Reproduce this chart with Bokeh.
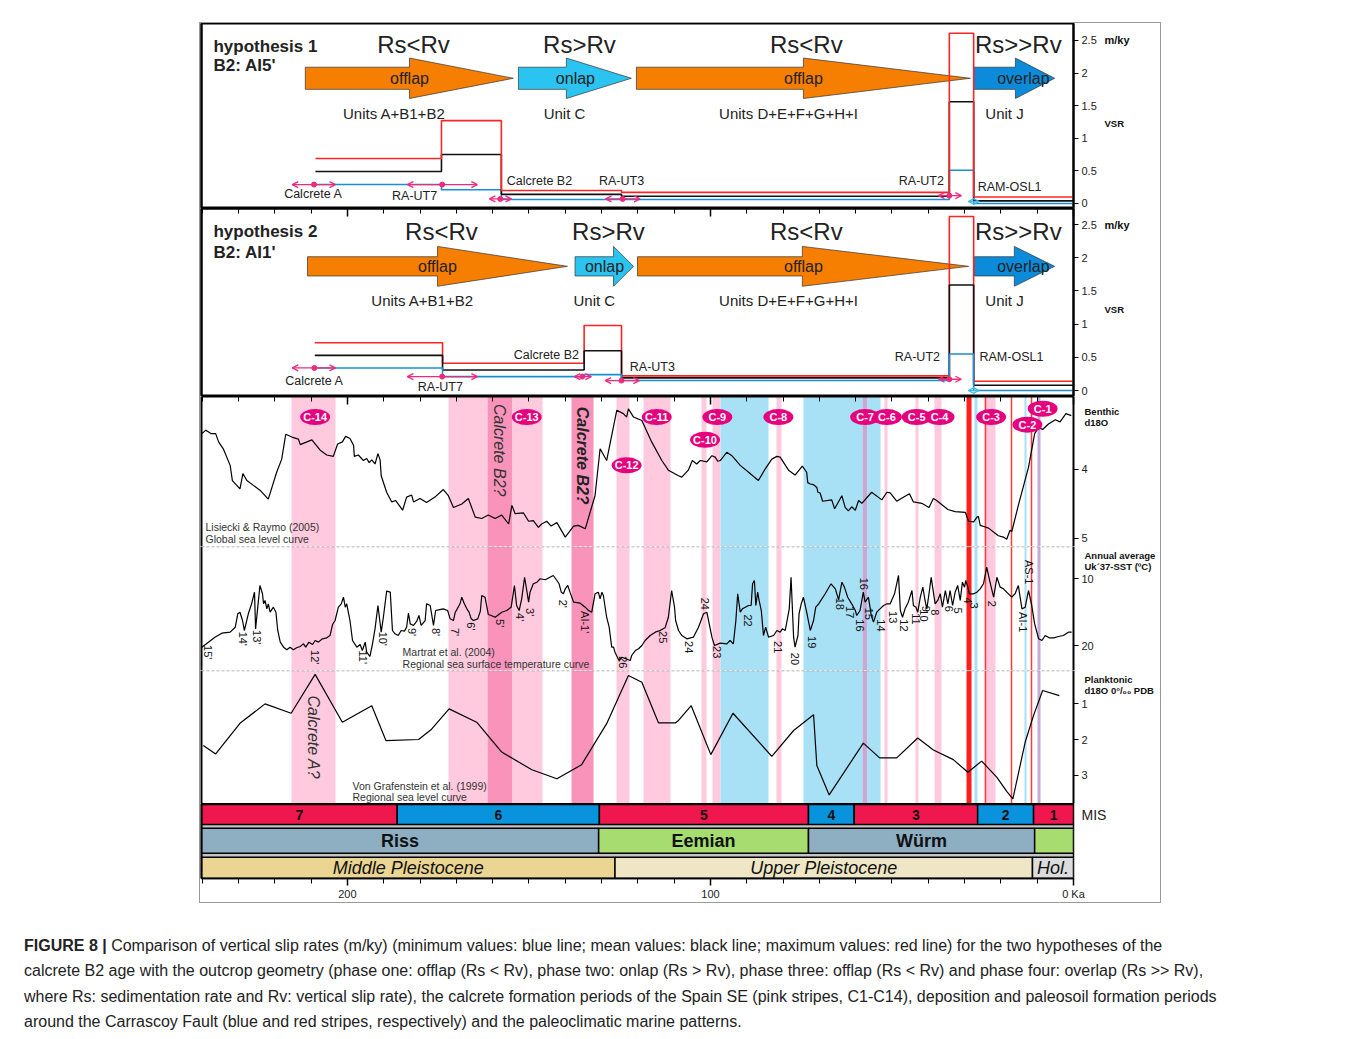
import math
from bokeh.plotting import figure
from bokeh.models import (Range1d, LinearAxis, FixedTicker, Span, Arrow, OpenHead,
                          ColumnDataSource, Div, Spacer, CustomJSTickFormatter)
from bokeh.layouts import column, row
from bokeh.embed import file_html
from bokeh.resources import INLINE
from bokeh.core.properties import value

FONT = "Liberation Sans"

# ---------------------------------------------------------------- data
AGE_OLDEST, AGE_YOUNGEST = 240.2, 0.0
age_major = [0, 100, 200]
age_minor = list(range(0, 241, 10))

# sedimentary phases (hypothesis panels)
phase_names = ["offlap", "onlap", "offlap", "overlap"]
phase_rel = ["Rs<Rv", "Rs>Rv", "Rs<Rv", "Rs>>Rv"]
phase_units = ["Units A+B1+B2", "Unit C", "Units D+E+F+G+H+I", "Unit J"]
h1_phase_start = [211.6, 152.9, 120.4, 27.5]
h1_phase_head = [182.9, 139.7, 74.4, 16.0]
h1_phase_tip = [154.3, 121.8, 28.4, 5.2]
h1_rel_x = [181.8, 136.1, 73.6, 15.2]
h1_units_x = [187.1, 140.2, 78.5, 19.0]
h1_name_x = [182.9, 137.2, 74.4, 13.8]
h2_phase_start = [211.0, 137.3, 120.1, 27.3]
h2_phase_head = [175.2, 126.7, 74.7, 16.3]
h2_phase_tip = [139.4, 121.2, 28.9, 5.2]
h2_rel_x = [174.1, 128.1, 73.6, 15.2]
h2_units_x = [179.3, 132.0, 78.5, 19.0]
h2_name_x = [175.2, 129.2, 74.4, 13.8]

# vertical slip rates (m/ky), step functions between age bounds
h1_bounds = [208.8, 174.1, 157.6, 124.5, 34.2, 27.5, 0.0]
h1_vsr_max = [0.69, 1.27, 0.20, 0.17, 2.61, 0.10]
h1_vsr_mean = [0.49, 0.75, 0.14, 0.11, 1.56, 0.04]
h1_vsr_min = [0.29, 0.21, 0.06, 0.06, 0.51, 0.0]
h2_bounds = [209.0, 173.8, 134.8, 124.5, 34.2, 27.5, 0.0]
h2_vsr_max = [0.72, 0.41, 0.98, 0.22, 2.62, 0.14]
h2_vsr_mean = [0.53, 0.31, 0.60, 0.19, 1.59, 0.08]
h2_vsr_min = [0.34, 0.21, 0.24, 0.15, 0.55, 0.0]
vsr_ticks = [0, 0.5, 1, 1.5, 2, 2.5]

# dated samples
sample_names = ["Calcrete A", "RA-UT7", "Calcrete B2", "RA-UT3", "RA-UT2", "RAM-OSL1"]
h1_sample_age = [209.2, 173.9, 157.9, 124.2, 34.2, 27.5]
h1_sample_old = [215.2, 183.5, 160.9, 128.9, 37.2, 29.0]
h1_sample_young = [203.3, 164.2, 154.8, 119.4, 30.9, 26.0]
h1_sample_vsr = [0.29, 0.29, 0.07, 0.07, 0.12, 0.03]
h1_label_x = [209.4, 181.5, 147.1, 124.5, 41.9, 17.6]
h1_label_y = [0.14, 0.11, 0.34, 0.35, 0.34, 0.26]
h2_sample_age = [209.1, 173.9, 135.3, 124.5, 34.2, 27.5]
h2_sample_old = [215.2, 183.5, 137.5, 129.0, 37.2, 29.0]
h2_sample_young = [203.3, 164.2, 132.8, 119.6, 30.9, 26.0]
h2_sample_vsr = [0.34, 0.21, 0.21, 0.15, 0.17, 0.0]
h2_label_x = [209.1, 174.4, 145.2, 116.0, 43.0, 17.1]
h2_label_y = [0.15, 0.05, 0.53, 0.36, 0.50, 0.50]

# stripes (calcrete, deposition, paleosoil)
stripe_old = [215.3, 172.2, 161.3, 154.4, 138.2, 125.8, 118.5, 102.4, 99.4, 97.3, 81.9,
              74.4, 58.0, 56.7, 52.1, 43.4, 38.3, 29.4, 27.3, 24.4, 13.6, 9.9]
stripe_young = [203.2, 161.3, 154.4, 146.3, 132.2, 122.4, 111.1, 101.0, 97.3, 84.0, 80.4,
                58.0, 56.7, 53.3, 51.2, 42.7, 36.3, 28.0, 26.4, 21.4, 12.9, 9.2]
stripe_kind = ["C", "C", "B2", "C", "B2", "C", "C", "C", "C", "D", "C",
               "D", "CD", "D", "C", "C", "C", "S", "D", "C", "D", "CD"]
soil_lines = [24.2, 17.2, 11.7]

# calcrete badges
badge_names = ["C-14", "C-13", "C-12", "C-11", "C-10", "C-9", "C-8", "C-7", "C-6", "C-5",
               "C-4", "C-3", "C-2", "C-1"]
badge_age = [208.9, 150.6, 123.1, 114.8, 101.5, 98.1, 81.3, 57.4, 51.4, 43.2, 36.9, 22.7, 12.7, 8.5]
badge_val = [3.24, 3.24, 3.94, 3.24, 3.57, 3.24, 3.24, 3.24, 3.24, 3.24, 3.24, 3.24, 3.35, 3.12]

# benthic d18O (Lisiecki & Raymo 2005)
benthic_age = [
    240.1, 239.0, 237.6, 236.3, 235.5, 234.2, 232.3, 231.7, 229.6, 228.8,
    227.7, 225.9, 224.1, 221.8, 219.5, 218.1, 217.0, 215.3, 213.5, 213.0,
    209.8, 207.5, 205.7, 203.9, 202.7, 201.4, 200.5, 199.3, 198.3, 198.1,
    197.0, 195.6, 194.7, 194.0, 193.3, 192.4, 191.6, 191.0, 190.7, 189.2,
    187.8, 186.7, 184.8, 183.7, 182.3, 181.8, 180.0, 178.2, 175.9, 173.6,
    172.2, 170.8, 168.5, 166.7, 164.8, 163.0, 161.2, 159.3, 157.5, 155.6,
    154.7, 153.8, 151.5, 150.1, 148.8, 147.4, 146.5, 145.1, 143.9, 142.3,
    140.0, 137.7, 136.4, 134.5, 131.8, 130.4, 128.6, 125.8, 124.0, 123.1,
    122.6, 121.2, 118.9, 116.2, 113.4, 111.6, 108.8,
    107.9, 106.1, 105.0, 103.8, 102.8, 101.0, 99.6, 98.7, 98.0, 97.3,
    95.5, 94.1, 91.8, 89.5, 86.8, 84.9, 83.1, 81.7, 80.8, 78.5,
    76.7, 74.7, 73.5, 73.2, 72.5, 71.6, 70.7, 70.4, 69.8, 69.1,
    66.6, 65.8, 63.8, 62.9, 62.0, 61.1, 60.1, 59.2, 58.3, 55.6,
    52.8, 51.4, 50.5, 48.7, 47.8, 45.2, 44.1, 41.8, 39.8, 38.6,
    37.7, 34.6, 32.6, 29.8, 28.9, 27.5, 26.6, 26.2, 25.7, 24.5,
    23.4, 20.7, 19.3, 18.4, 17.5, 17.0, 15.2, 12.4, 10.7, 9.6,
    8.5, 6.9, 5.0, 3.7, 2.1, 0.6]
benthic_val = [
    3.48, 3.43, 3.48, 3.48, 3.60, 3.70, 3.94, 4.16, 4.28, 4.06,
    4.16, 4.23, 4.30, 4.43, 4.04, 3.85, 3.49, 3.53, 3.56, 3.64,
    3.57, 3.72, 3.79, 3.81, 3.63, 3.60, 3.52, 3.55, 3.65, 3.81,
    3.79, 3.87, 3.84, 3.90, 3.86, 3.92, 3.77, 3.86, 4.09, 4.33,
    4.47, 4.45, 4.59, 4.40, 4.37, 4.47, 4.42, 4.48, 4.40, 4.29,
    4.38, 4.55, 4.50, 4.42, 4.69, 4.71, 4.66, 4.71, 4.66, 4.79,
    4.52, 4.64, 4.63, 4.75, 4.74, 4.84, 4.79, 4.75, 4.82, 4.77,
    4.98, 4.82, 4.81, 4.86, 4.38, 3.70, 3.87, 3.14, 3.19, 3.24,
    3.12, 3.24, 3.29, 3.60, 3.87, 4.01, 4.09,
    4.11, 4.01, 3.87, 3.92, 3.87, 3.89, 3.80, 3.82, 3.88, 3.87,
    3.75, 3.80, 3.94, 4.04, 4.16, 3.99, 3.85, 3.81, 3.82, 4.01,
    4.08, 3.95, 4.04, 4.19, 4.21, 4.22, 4.26, 4.33, 4.34, 4.46,
    4.44, 4.57, 4.38, 4.55, 4.60, 4.54, 4.59, 4.45, 4.49, 4.33,
    4.44, 4.33, 4.34, 4.46, 4.43, 4.35, 4.47, 4.49, 4.55, 4.42,
    4.45, 4.58, 4.61, 4.62, 4.75, 4.76, 4.69, 4.68, 4.81, 4.83,
    4.85, 4.96, 4.98, 5.01, 4.88, 4.90, 4.52, 3.97, 3.48, 3.39,
    3.42, 3.34, 3.28, 3.31, 3.19, 3.22]

# annual average Uk'37-SST (Martrat et al. 2004), MIS 7-5 and MIS 5-1
sst_age_old = [
    240.1, 238.3, 236.5, 234.6, 232.3, 230.9, 230.2, 229.6, 228.9, 228.4,
    227.3, 226.4, 225.6, 225.3, 224.7, 224.1, 223.4, 223.1, 222.7, 222.2,
    221.8, 221.3, 220.4, 219.7, 219.2, 218.5, 217.6, 216.7, 215.8, 214.9,
    214.0, 213.0, 212.1, 211.5, 210.6, 209.6, 208.9, 208.0, 206.9, 205.7,
    204.8, 204.1, 203.4, 202.5, 201.7, 201.1, 200.6, 200.2, 199.3, 198.6,
    197.4, 196.5, 195.9, 195.1, 194.7, 193.8, 193.1, 192.4, 191.6, 190.7,
    190.1, 189.2, 188.2, 187.6, 186.9, 186.0, 185.2, 184.3, 183.7, 183.2,
    182.7, 181.8, 180.9, 180.3, 179.7, 178.6, 178.2, 177.2, 176.3, 175.7,
    174.9, 173.6, 172.4, 171.7, 170.8, 170.3, 169.9, 169.0, 168.5, 167.8,
    167.1, 166.5, 165.9, 165.3, 164.1, 163.4, 163.0, 162.1, 161.2, 160.4,
    159.3, 157.5, 156.1, 154.9, 154.0, 153.4, 152.7, 152.0, 151.2, 150.6,
    150.1, 149.7, 148.8, 147.8, 146.9, 145.5, 144.2, 143.3, 142.3, 141.7,
    141.1, 140.5, 140.0, 139.3, 138.7, 137.7, 135.9, 134.5, 133.6, 132.7,
    131.8, 130.9, 130.4, 129.9, 129.5, 128.6, 127.9, 127.2, 126.7, 126.3,
    125.2, 124.4, 122.1, 121.7, 120.7, 119.8, 118.9, 118.0, 116.6, 115.2,
    113.9, 112.5, 111.6, 110.7, 109.9, 109.6, 108.8]
sst_val_old = [
    20.25, 19.5, 18.76, 18.16, 18.01, 17.27, 15.27, 15.03, 16.27, 17.76,
    15.27, 13.78, 12.04, 17.51, 14.28, 11.04, 12.28, 13.78, 13.28, 14.53,
    13.78, 15.03, 14.28, 15.03, 17.76, 19.5, 20.25, 20.64, 20.25, 20.64,
    20.34, 20.15, 19.75, 20.25, 19.5, 19.85, 19.25, 19.5, 19.0, 18.85,
    18.51, 16.87, 16.27, 14.28, 13.78, 12.79, 14.28, 13.78, 16.27, 19.25,
    20.25, 19.85, 20.75, 19.5, 21.0, 21.64, 19.75, 17.51, 14.03, 18.01,
    15.78, 11.89, 12.04, 17.76, 18.25, 18.51, 17.76, 17.86, 17.27, 15.18,
    16.77, 17.01, 16.37, 15.52, 17.01, 16.27, 13.78, 14.03, 17.01, 14.78,
    14.68, 14.53, 14.78, 16.02, 16.27, 15.03, 14.68, 13.78, 12.79, 13.78,
    14.53, 15.03, 16.02, 16.27, 16.02, 14.88, 12.54, 12.79, 15.37, 15.52,
    15.78, 15.03, 14.78, 14.28, 11.04, 14.03, 14.78, 13.03, 9.81, 11.79,
    13.53, 12.04, 10.79, 10.55, 10.04, 10.19, 9.81, 9.55, 10.3, 10.79,
    12.04, 12.28, 11.54, 11.04, 12.04, 13.53, 13.68, 14.28, 14.78, 15.03,
    12.28, 12.04, 13.03, 12.04, 12.54, 15.78, 17.27, 20.25, 20.25, 21.0,
    22.24, 21.75, 22.24, 21.49, 20.75, 20.49, 20.0, 19.25, 18.51, 18.01,
    17.76, 17.36, 15.78, 11.79, 14.28, 16.27, 17.76]
sst_age_young = [
    107.9, 106.5, 104.7, 103.3, 101.9, 101.0, 99.6, 98.9, 97.3, 95.5,
    94.6, 93.7, 93.0, 92.5, 91.8, 91.2, 90.4, 89.5, 88.8, 88.4,
    87.9, 87.5, 87.0, 86.6, 86.0, 85.4, 84.8, 84.0, 82.6, 81.7,
    80.8, 80.2, 79.4, 78.3, 77.8, 77.1, 76.7, 75.9, 75.6, 75.0,
    74.4, 73.5, 72.5, 71.6, 71.0, 70.2, 68.4, 66.8, 65.6, 64.7,
    63.8, 63.1, 62.2, 61.1, 60.1, 59.7, 58.8, 57.9, 57.4, 56.5,
    55.7, 55.1, 54.2, 53.3, 52.3, 51.4, 50.5, 49.3, 48.2, 47.7,
    47.1, 46.4, 45.5, 44.5, 44.1, 43.4, 42.9, 42.2, 41.5, 40.9,
    40.4, 39.8, 39.2, 38.6, 38.1, 37.4, 36.7, 36.1, 35.3, 34.6,
    34.0, 33.3, 32.6, 31.9, 31.2, 30.6, 30.0, 29.7, 29.1, 28.7,
    27.5, 26.6, 25.7, 24.8, 23.9, 23.0, 22.0, 21.1, 20.2, 19.3,
    18.4, 17.0, 16.1, 15.2, 14.2, 13.3, 12.4, 11.5, 10.7, 9.6,
    8.7, 7.8, 6.7, 5.5, 4.1, 2.8, 1.4, 0.5]
sst_val_young = [
    18.51, 19.0, 18.76, 17.27, 15.27, 15.03, 18.76, 20.0, 19.65, 19.75,
    19.25, 19.75, 16.27, 12.28, 15.03, 14.53, 14.28, 14.03, 14.03, 10.79,
    10.3, 14.03, 12.04, 13.28, 14.78, 18.51, 17.27, 18.76, 18.51, 17.76,
    18.01, 17.51, 17.76, 14.53, 9.81, 18.76, 20.25, 18.51, 15.27, 13.78,
    12.79, 15.03, 17.76, 16.27, 14.28, 13.78, 12.28, 10.79, 11.54, 13.18,
    10.55, 11.29, 12.79, 13.78, 14.78, 15.52, 14.78, 12.04, 13.53, 12.79,
    15.52, 16.52, 15.03, 14.53, 14.03, 13.78, 13.78, 12.28, 9.55, 14.78,
    15.78, 14.53, 13.53, 11.79, 14.03, 14.28, 15.03, 12.79, 11.29, 13.28,
    14.53, 12.28, 9.81, 12.04, 13.78, 13.28, 12.28, 14.28, 11.79, 13.78,
    11.79, 14.03, 12.04, 11.04, 13.28, 10.55, 11.29, 10.3, 11.29, 12.28,
    12.28, 12.04, 11.54, 10.79, 8.31, 10.55, 12.79, 9.81, 11.29, 11.54,
    12.04, 12.79, 12.28, 11.04, 14.53, 14.28, 11.79, 14.03, 16.77, 19.0,
    19.25, 18.51, 18.85, 18.85, 18.66, 18.51, 18.01, 18.01]

sst_label_text = ["15'", "14'", "13'", "12'", "11'", "10'", "9'", "8'", "7'", "6'",
                  "5'", "4'", "3'", "2'", "AI-1'", "26", "25", "24", "24", "23",
                  "22", "21", "20", "19", "18", "17", "16", "15", "16", "14",
                  "13", "12", "11", "10", "9", "8", "6", "5", "4", "3",
                  "2", "AI-1", "AS-1"]
sst_label_age = [238.5, 228.7, 225.0, 208.9, 195.6, 190.3, 182.3, 175.7, 170.5, 165.9,
                 157.9, 152.4, 149.7, 140.7, 134.5, 124.2, 113.1, 101.5, 105.9, 98.3,
                 89.7, 81.3, 76.7, 71.9, 64.3, 61.5, 57.7, 56.3, 58.8, 53.0,
                 49.6, 46.8, 43.4, 41.3, 40.7, 38.1, 34.2, 31.7, 29.1, 27.3,
                 22.5, 13.8, 12.2]
sst_label_val = [21.0, 19.0, 18.76, 21.75, 21.75, 19.0, 18.0, 18.0, 18.0, 17.16,
                 16.67, 15.78, 15.03, 13.78, 16.52, 22.5, 18.76, 13.78, 20.25, 21.0,
                 16.27, 20.25, 22.0, 19.5, 13.78, 15.03, 10.79, 15.27, 17.01, 17.01,
                 15.78, 17.01, 16.02, 15.52, 14.53, 15.03, 14.53, 14.78, 13.28, 14.03,
                 13.78, 16.52, 9.06]

# planktonic d18O (Von Grafenstein et al. 1999)
plank_age = [239.7, 236.3, 229.6, 222.7, 215.5, 208.9, 201.4, 193.3, 189.4, 180.4,
             177.0, 172.0, 164.4, 157.5, 149.2, 142.3, 135.5, 128.6, 122.6, 118.9,
             114.3, 109.7, 108.8, 105.3, 99.9, 93.8, 83.1, 77.1, 71.6, 70.7,
             67.3, 57.9, 53.4, 48.7, 42.9, 38.6, 33.1, 29.1, 25.3, 21.1,
             18.4, 16.7, 13.3, 11.0, 8.5, 3.9]
plank_val = [2.17, 2.40, 1.55, 1.01, 1.27, 0.19, 1.52, 1.06, 2.03, 2.00,
             1.73, 1.15, 1.52, 2.35, 2.84, 3.09, 2.70, 1.56, 0.22, 0.41,
             1.54, 1.54, 1.47, 1.06, 2.42, 1.27, 2.47, 1.75, 1.31, 2.72,
             3.54, 2.10, 2.51, 2.51, 1.96, 2.29, 2.56, 2.91, 2.60, 3.05,
             3.44, 3.65, 2.07, 1.33, 0.64, 0.78]

# chronostratigraphy
mis_names = ["7", "6", "5", "4", "3", "2", "1"]
mis_old = [240.2, 186.3, 130.6, 73.0, 60.4, 26.4, 11.0]
mis_young = [186.3, 130.6, 73.0, 60.4, 26.4, 11.0, 0.0]
stage_names = ["Riss", "Eemian", "Würm", ""]
stage_old = [240.2, 130.8, 73.0, 10.7]
stage_young = [130.8, 73.0, 10.7, 0.0]
epoch_names = ["Middle Pleistocene", "Upper Pleistocene", "Hol."]
epoch_old = [240.2, 126.3, 11.3]
epoch_young = [126.3, 11.3, 0.0]

# ---------------------------------------------------------------- styles
ORANGE, CYAN, DEEPBLUE = "#F67E00", "#2BC3EF", "#0B8BDA"
RED_LINE, BLACK_LINE, BLUE_LINE = "#FF2424", "#111111", "#1A8FD8"
PINK_AGE, CYAN_AGE = "#EE2A7B", "#3DB8E8"
STRIPE_COL = {"C": "#FFCADD", "B2": "#FA93BA", "D": "#A8E0F5", "CD": "#C6A9D4", "S": "#FF1E1E"}
stripe_colors = [STRIPE_COL[k] for k in stripe_kind]
MIS_RED, MIS_BLUE = "#F0174F", "#0993DC"
mis_colors = [MIS_RED if i % 2 == 0 else MIS_BLUE for i in range(len(mis_names))]
stage_colors = ["#8EAEC1", "#A6DC70", "#8EAEC1", "#A6DC70"]
epoch_colors = ["#EBD592", "#EEE6C4", "#DCDCDC"]

XR = Range1d(AGE_OLDEST, AGE_YOUNGEST)


def base_fig(frame_h, y_start, y_end, outline=True):
    p = figure(frame_width=872, frame_height=frame_h, x_range=XR,
               y_range=Range1d(y_start, y_end), x_axis_location=None, y_axis_location=None,
               toolbar_location=None, output_backend="svg", min_border_left=1,
               min_border_right=87, min_border_top=0, min_border_bottom=0,
               background_fill_color="white", border_fill_color="white")
    p.grid.visible = False
    p.outline_line_color = "black" if outline else None
    p.outline_line_width = 2
    left = LinearAxis(ticker=FixedTicker(ticks=[]), major_tick_in=0, major_tick_out=0,
                      minor_tick_in=0, minor_tick_out=0, major_label_text_color=None,
                      major_label_standoff=0, axis_line_width=2, axis_line_color="black")
    p.add_layout(left, "left")
    return p


def label_formatter(ticks, texts):
    return CustomJSTickFormatter(
        args=dict(vals=list(ticks), labs=list(texts)),
        code="const i = vals.indexOf(tick); return i >= 0 ? labs[i] : String(tick);")


def add_right_axis(p, ticks, side_texts=(), side_y=(), side_standoff=0, side_size="9.5px"):
    ax = LinearAxis(ticker=FixedTicker(ticks=ticks),
                    formatter=CustomJSTickFormatter(code="return String(tick)"),
                    major_tick_in=0, major_tick_out=5, minor_tick_line_color=None,
                    major_label_text_font=FONT, major_label_text_font_size="11px",
                    major_label_text_color="#222222", major_label_standoff=3,
                    axis_line_width=2, axis_line_color="black")
    p.add_layout(ax, "right")
    if side_texts:
        side = LinearAxis(ticker=FixedTicker(ticks=list(side_y)),
                          formatter=label_formatter(side_y, side_texts),
                          major_tick_in=0, major_tick_out=0, minor_tick_in=0,
                          minor_tick_out=0, major_tick_line_color=None,
                          minor_tick_line_color=None, axis_line_color=None,
                          major_label_text_font=FONT, major_label_text_font_size=side_size,
                          major_label_text_font_style="bold",
                          major_label_text_color="#111111",
                          major_label_standoff=side_standoff)
        p.add_layout(side, "right")


def add_inner_top_ticks(p):
    ax = LinearAxis(ticker=FixedTicker(ticks=age_major, minor_ticks=age_minor),
                    major_tick_in=8, major_tick_out=0, minor_tick_in=5, minor_tick_out=0,
                    major_label_text_font_size="0px", major_label_text_color=None,
                    major_label_standoff=0, axis_line_width=2, major_tick_line_width=1.5)
    p.add_layout(ax, "above")


def steps(bounds, vals):
    xs, ys = [], []
    for i, v in enumerate(vals):
        xs += [bounds[i], bounds[i + 1]]
        ys += [v, v]
    return xs, ys


def hypothesis_panel(frame_h, yr, title, sub, title_y, rel_y, units_y, arrow_c, shaft, head,
                     starts, heads, tips, rel_x, units_x, name_x, bounds, vmax, vmean, vmin,
                     s_age, s_old, s_young, s_vsr, lab_x, lab_y, red_on_top, top_ticks,
                     vsr_label_y):
    p = base_fig(frame_h, *yr)
    if top_ticks:
        add_inner_top_ticks(p)
    add_right_axis(p, vsr_ticks, ["m/ky"], [2.5], side_standoff=5, side_size="11px")
    # VSR caption on its own, smaller
    vsr_ax = LinearAxis(ticker=FixedTicker(ticks=[vsr_label_y]),
                        formatter=label_formatter([vsr_label_y], ["VSR"]),
                        major_tick_in=0, major_tick_out=0, minor_tick_in=0, minor_tick_out=0,
                        major_tick_line_color=None, minor_tick_line_color=None,
                        axis_line_color=None, major_label_text_font=FONT,
                        major_label_text_font_size="9.5px", major_label_text_font_style="bold",
                        major_label_text_color="#111111", major_label_standoff=-28)
    p.add_layout(vsr_ax, "right")
    xs_list, ys_list = [], []
    for s, h, t in zip(starts, heads, tips):
        xs_list.append([s, h, h, t, h, h, s])
        ys_list.append([arrow_c + shaft, arrow_c + shaft, arrow_c + head, arrow_c,
                        arrow_c - head, arrow_c - shaft, arrow_c - shaft])
    p.patches(xs_list, ys_list, fill_color=[ORANGE, CYAN, ORANGE, DEEPBLUE],
              line_color="#333333", line_width=0.7)
    p.text(name_x, [arrow_c] * 4, phase_names, text_font=value(FONT), text_font_size="16px",
           text_align="center", text_baseline="middle", text_color="#222222")
    p.text(rel_x, [rel_y] * 4, phase_rel, text_font=value(FONT), text_font_size="24px",
           text_align="center", text_baseline="middle", text_color="#222222")
    p.text(units_x, [units_y] * 4, phase_units, text_font=value(FONT), text_font_size="15px",
           text_align="center", text_baseline="middle", text_color="#222222")
    p.text([236.9, 236.9], title_y, [title, sub], text_font=value(FONT), text_font_size="17px",
           text_font_style="bold", text_align="left", text_baseline="middle",
           text_color="#222222")
    order = [(vmin, BLUE_LINE), (vmean, BLACK_LINE), (vmax, RED_LINE)]
    if not red_on_top:
        order = order[::-1]
    for vals, col in order:
        xs, ys = steps(bounds, vals)
        p.line(xs, ys, line_color=col, line_width=1.6)
    pink = ColumnDataSource(dict(x0=s_old[:5], x1=s_young[:5], y=s_vsr[:5]))
    cyan = ColumnDataSource(dict(x0=s_old[5:], x1=s_young[5:], y=s_vsr[5:]))
    for src, col in [(pink, PINK_AGE), (cyan, CYAN_AGE)]:
        p.add_layout(Arrow(start=OpenHead(size=6, line_color=col, line_width=1.3),
                           end=OpenHead(size=6, line_color=col, line_width=1.3),
                           x_start="x0", x_end="x1", y_start="y", y_end="y", source=src,
                           line_color=col, line_width=1.3))
    p.scatter(s_age[:5], s_vsr[:5], size=5, color=PINK_AGE)
    p.text(lab_x, lab_y, sample_names, text_font=value(FONT), text_font_size="12.5px",
           text_align="center", text_baseline="middle", text_color="#222222")
    return p


p1 = hypothesis_panel(185, (-0.077, 2.76), "hypothesis 1", "B2: AI5'", [2.41, 2.12], 2.44, 1.38,
                      1.92, 0.17, 0.31, h1_phase_start, h1_phase_head, h1_phase_tip, h1_rel_x,
                      h1_units_x, h1_name_x, h1_bounds, h1_vsr_max, h1_vsr_mean, h1_vsr_min,
                      h1_sample_age, h1_sample_old, h1_sample_young, h1_sample_vsr,
                      h1_label_x, h1_label_y, True, False, 1.23)
p2 = hypothesis_panel(188, (-0.09, 2.741), "hypothesis 2", "B2: AI1'", [2.39, 2.08], 2.39, 1.36,
                      1.87, 0.145, 0.30, h2_phase_start, h2_phase_head, h2_phase_tip, h2_rel_x,
                      h2_units_x, h2_name_x, h2_bounds, h2_vsr_max, h2_vsr_mean, h2_vsr_min,
                      h2_sample_age, h2_sample_old, h2_sample_young, h2_sample_vsr,
                      h2_label_x, h2_label_y, False, True, 1.22)


def curve_panel(frame_h, yr, ticks, side_texts, side_y, side_standoff, top_ticks=False,
                dashed_top=False):
    p = base_fig(frame_h, *yr, outline=False)
    if top_ticks:
        add_inner_top_ticks(p)
    add_right_axis(p, ticks, side_texts, side_y, side_standoff=side_standoff)
    p.vstrip(x0=stripe_old, x1=stripe_young, fill_color=stripe_colors, line_color=None)
    p.vspan(x=soil_lines, line_color="#FF3B3B", line_width=1.5)
    if dashed_top:
        p.add_layout(Span(location=yr[1], dimension="width", line_color="#9A9A9A",
                          line_dash="3 2", line_width=1.5))
    return p


def src_text(p, x, ys, lines):
    p.text([x] * len(lines), ys, lines, text_font=value(FONT), text_font_size="10.5px",
           text_align="left", text_baseline="middle", text_color="#333333")


# benthic
p3a = curve_panel(150, (5.116, 2.942), [4, 5], ["Benthic", "d18O"], [3.16, 3.32], -6,
                  top_ticks=True)
p3a.text([158.1], [3.72], ["Calcrete B2?"], text_font=value(FONT), text_font_size="16px",
         text_font_style="italic", angle=-math.pi / 2, text_align="center",
         text_baseline="middle", text_color="#333333")
p3a.text([135.3], [3.80], ["Calcrete B2?"], text_font=value(FONT), text_font_size="16px",
         text_font_style="bold italic", angle=-math.pi / 2, text_align="center",
         text_baseline="middle", text_color="#222222")
p3a.line(benthic_age, benthic_val, line_color="black", line_width=1.2)
p3a.ellipse(badge_age, badge_val, width=30, height=16, width_units="screen",
            height_units="screen", fill_color="#E6007E", line_color=None)
p3a.text(badge_age, badge_val, badge_names, text_font=value(FONT), text_font_size="11px",
         text_font_style="bold", text_align="center", text_baseline="middle",
         text_color="white")
src_text(p3a, 239.1, [4.84, 5.01], ["Lisiecki & Raymo (2005)", "Global sea level curve"])

# SST
p3b = curve_panel(124, (23.731, 5.224), [10, 20], ["Annual average", "Uk´37-SST (ºC)"],
                  [6.57, 8.21], -12, dashed_top=True)
p3b.line(sst_age_old + sst_age_young, sst_val_old + sst_val_young, line_color="black",
         line_width=1.2)
p3b.text(sst_label_age, sst_label_val, sst_label_text, text_font=value(FONT),
         text_font_size="11px", angle=-math.pi / 2, text_align="center",
         text_baseline="middle", text_color="#111111")
src_text(p3b, 184.8, [21.04, 22.69], ["Martrat et al. (2004)",
                                      "Regional sea surface temperature curve"])

# planktonic
p3c = curve_panel(133, (3.778, 0.083), [1, 2, 3], ["Planktonic", "d18O 0°/₀₀ PDB"],
                  [0.33, 0.64], -6, dashed_top=True)
p3c.text([209.4], [1.94], ["Calcrete A?"], text_font=value(FONT), text_font_size="16px",
         text_font_style="italic", angle=-math.pi / 2, text_align="center",
         text_baseline="middle", text_color="#333333")
p3c.line(plank_age, plank_val, line_color="black", line_width=1.2)
src_text(p3c, 198.6, [3.28, 3.61], ["Von Grafenstein et al. (1999)", "Regional sea level curve"])

# chronostratigraphy
ps = base_fig(75, 0, 3)
ps.background_fill_color = "#C4C4C4"
ps.outline_line_width = 1.5
ps.quad(left=mis_old, right=mis_young, bottom=2.16, top=2.96, fill_color=mis_colors,
        line_color="black", line_width=1.5)
ps.quad(left=stage_old, right=stage_young, bottom=1.01, top=2.01, fill_color=stage_colors,
        line_color="black", line_width=1.5)
ps.quad(left=epoch_old, right=epoch_young, bottom=0.01, top=0.85, fill_color=epoch_colors,
        line_color="black", line_width=1.5)
mis_mid = [(a + b) / 2 for a, b in zip(mis_old, mis_young)]
stage_mid = [(a + b) / 2 for a, b in zip(stage_old, stage_young)]
epoch_mid = [(a + b) / 2 for a, b in zip(epoch_old, epoch_young)]
ps.text(mis_mid, [2.56] * 7, mis_names, text_font=value(FONT), text_font_size="14px",
        text_font_style="bold", text_align="center", text_baseline="middle",
        text_color="#111111")
ps.text(stage_mid, [1.51] * 4, stage_names, text_font=value(FONT), text_font_size="18px",
        text_font_style="bold", text_align="center", text_baseline="middle",
        text_color="#111111")
ps.text(epoch_mid, [0.43] * 3, epoch_names, text_font=value(FONT), text_font_size="18px",
        text_font_style="italic", text_align="center", text_baseline="middle",
        text_color="#111111")
mis_axis = LinearAxis(ticker=FixedTicker(ticks=[2.56]), formatter=label_formatter([2.56], ["MIS"]),
                      major_tick_in=0, major_tick_out=0, minor_tick_in=0, minor_tick_out=0,
                      major_tick_line_color=None, minor_tick_line_color=None,
                      axis_line_color=None, major_label_text_font=FONT,
                      major_label_text_font_size="14px", major_label_text_color="#222222",
                      major_label_standoff=8)
ps.add_layout(mis_axis, "right")
bottom = LinearAxis(ticker=FixedTicker(ticks=age_major, minor_ticks=age_minor),
                    formatter=CustomJSTickFormatter(
                        code="return tick == 0 ? '0 Ka' : String(tick)"),
                    major_tick_in=0, major_tick_out=7, minor_tick_in=0, minor_tick_out=5,
                    major_label_text_font=FONT, major_label_text_font_size="11px",
                    major_label_text_color="#222222", major_label_standoff=2,
                    axis_line_width=1.5, major_tick_line_width=1.5)
ps.add_layout(bottom, "below")

caption = Div(
    text=("<b>FIGURE 8 |</b> Comparison of vertical slip rates (m/ky) (minimum values: blue line; "
          "mean values: black line; maximum values: red line) for the two hypotheses of the<br>"
          "calcrete B2 age with the outcrop geometry (phase one: offlap (Rs &lt; Rv), phase two: "
          "onlap (Rs &gt; Rv), phase three: offlap (Rs &lt; Rv) and phase four: overlap "
          "(Rs &gt;&gt; Rv),<br>"
          "where Rs: sedimentation rate and Rv: vertical slip rate), the calcrete formation "
          "periods of the Spain SE (pink stripes, C1-C14), deposition and paleosoil formation "
          "periods<br>"
          "around the Carrascoy Fault (blue and red stripes, respectively) and the paleoclimatic "
          "marine patterns."),
    width=1320,
    styles={"font-family": "'Liberation Sans', Arial, sans-serif", "font-size": "16px",
            "line-height": "25.3px", "color": "#222222", "white-space": "nowrap"})

chart = column(p1, p2, p3a, p3b, p3c, ps, styles={"border": "1px solid #9A9A9A"})
page = column(Spacer(height=22), row(Spacer(width=199), chart), Spacer(height=25),
              row(Spacer(width=19), caption))

with open("out.html", "w") as f:
    f.write(file_html(page, INLINE, title="Figure 8"))
